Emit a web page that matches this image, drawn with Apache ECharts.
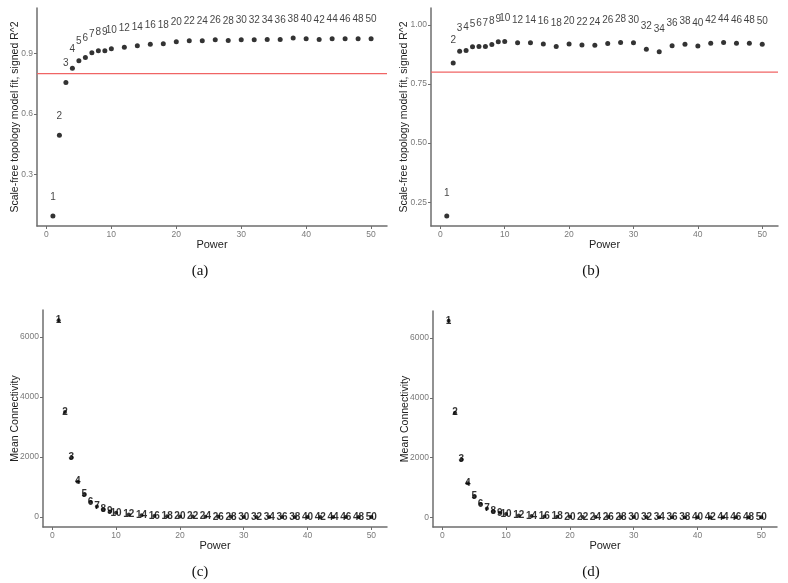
<!DOCTYPE html>
<html>
<head>
<meta charset="utf-8">
<title>Soft threshold selection</title>
<script src="https://cdn.jsdelivr.net/npm/echarts@6/dist/echarts.min.js"></script>
<style>
  html, body { margin: 0; padding: 0; background: #fff; }
  #main { width: 788px; height: 583px; }
</style>
</head>
<body>
<div id="main"></div>
<script>
// ==========================================
// DATA
// ==========================================
const powers = [1, 2, 3, 4, 5, 6, 7, 8, 9, 10, 12, 14, 16, 18, 20, 22, 24, 26, 28, 30,
  32, 34, 36, 38, 40, 42, 44, 46, 48, 50];

// signed R^2 of the scale-free fit
const fitA = [0.095, 0.495, 0.756, 0.827, 0.864, 0.880, 0.903, 0.913, 0.913, 0.923,
  0.931, 0.938, 0.946, 0.948, 0.958, 0.963, 0.963, 0.968, 0.964, 0.968,
  0.968, 0.969, 0.969, 0.976, 0.973, 0.969, 0.973, 0.973, 0.973, 0.973];
const fitB = [0.192, 0.839, 0.888, 0.891, 0.907, 0.908, 0.908, 0.917, 0.928, 0.929,
  0.924, 0.924, 0.919, 0.908, 0.919, 0.915, 0.914, 0.921, 0.925, 0.924,
  0.897, 0.886, 0.911, 0.918, 0.910, 0.922, 0.925, 0.922, 0.922, 0.918];

// mean connectivity
const connC = [6550, 3500, 1980, 1180, 750, 505, 355, 255, 190, 145,
  90, 60, 42, 31, 23, 18, 14, 11, 9, 7,
  6, 5, 4, 3.5, 3, 2.5, 2.2, 2, 1.7, 1.5];
const connD = [6580, 3500, 1930, 1140, 690, 440, 290, 200, 145, 105,
  60, 37, 24, 16, 11, 8, 6, 4.5, 3.5, 2.7,
  2.1, 1.7, 1.4, 1.1, 0.9, 0.8, 0.7, 0.6, 0.5, 0.4];

const cutoff = 0.8;
const xTicks = [0, 10, 20, 30, 40, 50];
const yTicksA = [0.3, 0.6, 0.9];
const yTicksB = [0.25, 0.5, 0.75, 1.0];
const yTicksConn = [0, 2000, 4000, 6000];
const captions = ['(a)', '(b)', '(c)', '(d)'];

// ==========================================
// STYLE HELPERS
// ==========================================
const FONT = 'Liberation Sans';
const axisColor = '#6e6e6e';
const tickTextColor = '#7a7a7a';
const cutColor = '#f06464';
const X_MIN = -1.45, X_MAX = 52.45;

function xAxisFor(gridIndex) {
  return {
    type: 'value', gridIndex: gridIndex,
    min: X_MIN, max: X_MAX,
    name: 'Power', nameLocation: 'middle', nameGap: 13, nameMoveOverlap: false,
    nameTextStyle: { color: '#222', fontSize: 11, fontFamily: FONT },
    axisLine: { show: true, onZero: false, lineStyle: { color: axisColor, width: 1.5 } },
    axisTick: { show: true, length: 3, customValues: xTicks, lineStyle: { color: axisColor } },
    axisLabel: { customValues: xTicks, margin: 4, color: tickTextColor, fontSize: 8.5, fontFamily: FONT },
    splitLine: { show: false }
  };
}

function yAxisFor(gridIndex, min, max, ticks, title, digits, gap) {
  return {
    type: 'value', gridIndex: gridIndex,
    min: min, max: max,
    name: title, nameLocation: 'middle', nameGap: gap, nameRotate: 90, nameMoveOverlap: false,
    nameTextStyle: { color: '#222', fontSize: 10.5, fontFamily: FONT },
    axisLine: { show: true, onZero: false, lineStyle: { color: axisColor, width: 1.5 } },
    axisTick: { show: true, length: 3, customValues: ticks, lineStyle: { color: axisColor } },
    axisLabel: {
      customValues: ticks, margin: 4, color: tickTextColor, fontSize: 8.5, fontFamily: FONT,
      formatter: v => digits === null ? String(v) : Number(v).toFixed(digits)
    },
    splitLine: { show: false }
  };
}

function pairs(ys) {
  return powers.map((p, i) => [p, ys[i]]);
}

function fitSeries(idx, ys, nudge) {
  return {
    type: 'scatter', xAxisIndex: idx, yAxisIndex: idx, z: 3,
    data: pairs(ys), symbolSize: 5,
    itemStyle: { color: '#000' },
    label: {
      show: true, position: 'inside', offset: [0, -nudge],
      formatter: p => p.value[0], color: '#111', fontSize: 10, fontFamily: FONT
    }
  };
}

// horizontal cutoff line across the whole panel
function cutoffSeries(idx) {
  return {
    type: 'line', xAxisIndex: idx, yAxisIndex: idx, z: 2,
    data: [[X_MIN, cutoff], [X_MAX, cutoff]],
    symbol: 'none', silent: true,
    lineStyle: { color: cutColor, width: 1.2 }
  };
}

function connSeries(idx, ys) {
  return {
    type: 'scatter', xAxisIndex: idx, yAxisIndex: idx,
    data: pairs(ys), symbolSize: 4,
    itemStyle: { color: '#000' },
    label: {
      show: true, position: 'inside',
      formatter: p => p.value[0], color: '#000', fontSize: 10, fontWeight: 'bold', fontFamily: FONT
    }
  };
}

// ==========================================
// CHART
// ==========================================
const chart = echarts.init(document.getElementById('main'), null, { renderer: 'canvas' });

const captionPos = [[200, 271], [591, 271], [200, 572], [591, 572]];

const option = {
  animation: false,
  backgroundColor: '#fff',
  grid: [
    { left: 37, top: 8, width: 350, height: 218 },
    { left: 431, top: 8, width: 347, height: 218 },
    { left: 43, top: 310, width: 344, height: 217 },
    { left: 433, top: 311, width: 344, height: 216 }
  ],
  xAxis: [xAxisFor(0), xAxisFor(1), xAxisFor(2), xAxisFor(3)],
  yAxis: [
    yAxisFor(0, 0.046, 1.125, yTicksA, 'Scale-free topology model fit, signed R^2', 1, 16),
    yAxisFor(1, 0.15, 1.071, yTicksB, 'Scale-free topology model fit, signed R^2', 2, 21),
    yAxisFor(2, -328, 6890, yTicksConn, 'Mean Connectivity', null, 22),
    yAxisFor(3, -329, 6909, yTicksConn, 'Mean Connectivity', null, 22)
  ],
  series: [
    cutoffSeries(0),
    cutoffSeries(1),
    fitSeries(0, fitA, 19),
    fitSeries(1, fitB, 23),
    connSeries(2, connC),
    connSeries(3, connD)
  ],
  graphic: captions.map((c, i) => ({
    type: 'text', silent: true,
    style: {
      x: captionPos[i][0], y: captionPos[i][1], text: c,
      align: 'center', verticalAlign: 'middle',
      fill: '#111', font: '15px "Liberation Serif"'
    }
  }))
};

chart.setOption(option);
</script>
</body>
</html>
